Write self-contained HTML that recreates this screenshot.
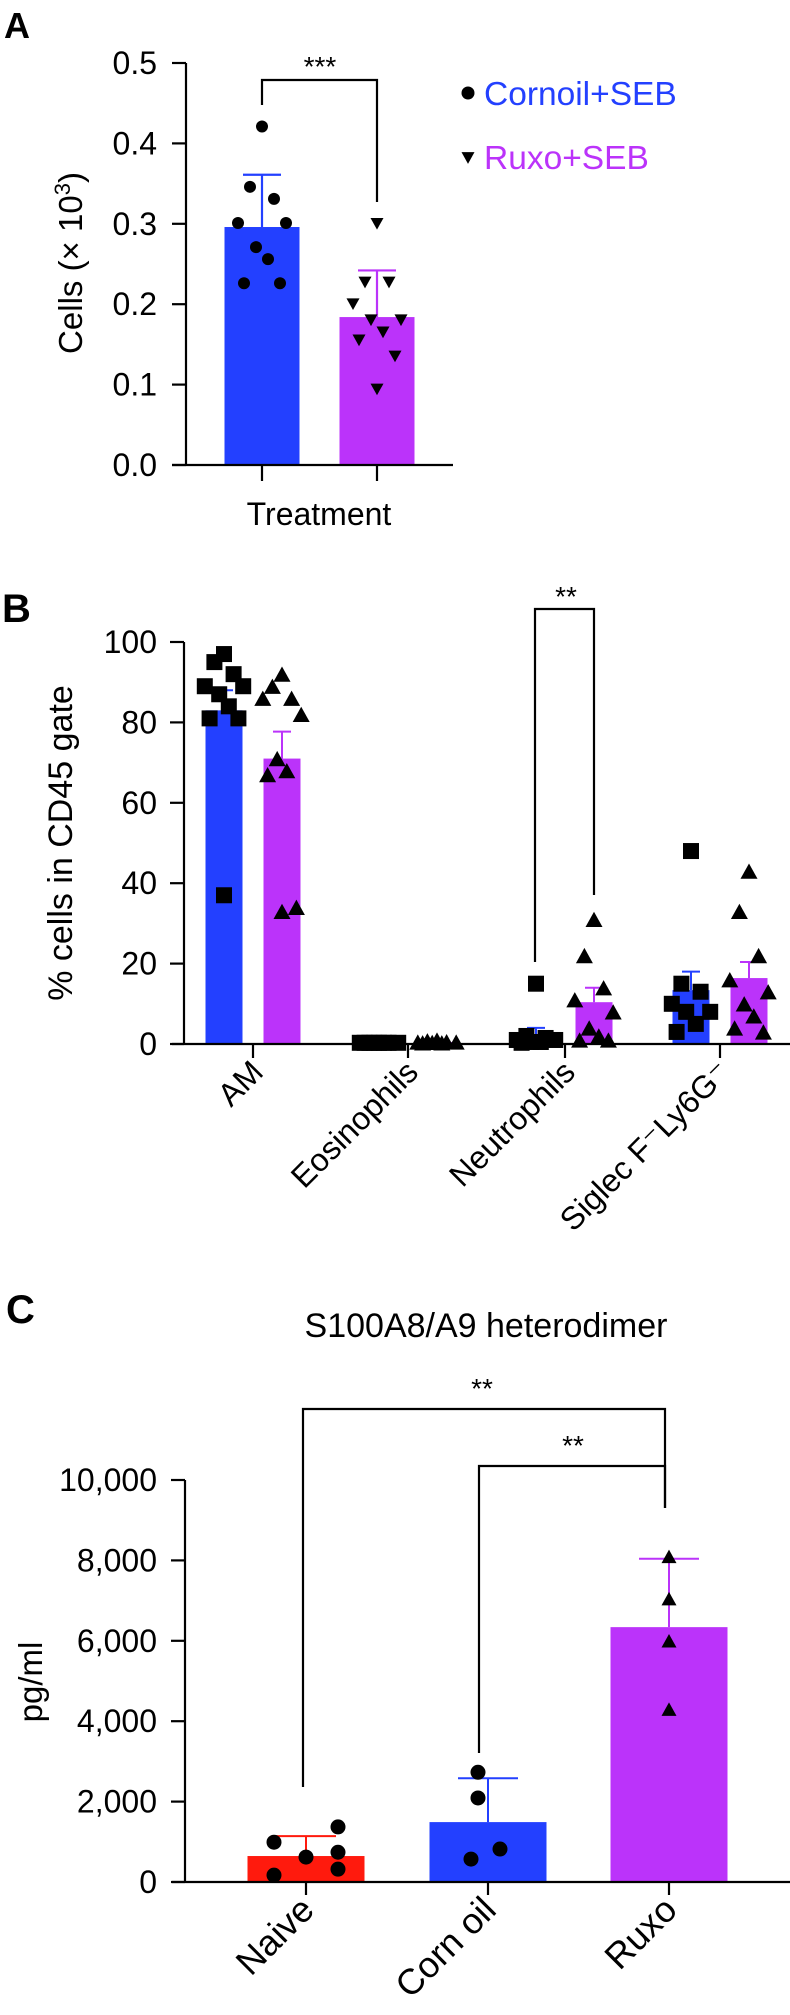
<!DOCTYPE html>
<html><head><meta charset="utf-8"><style>
html,body{margin:0;padding:0;background:#fff;}
svg{display:block;font-family:"Liberation Sans",Arial,sans-serif;}
</style></head><body>
<svg id="fig" width="790" height="2015" viewBox="0 0 790 2015" xmlns="http://www.w3.org/2000/svg">
<text x="4" y="38" font-size="36" font-weight="bold">A</text>
<text x="2" y="622" font-size="40" font-weight="bold">B</text>
<text x="6" y="1323" font-size="40" font-weight="bold">C</text>
<g id="pa"></g>
<g id="pb"></g>
<g id="pc"></g>
</svg>
<script>
// ---------- Panel A data ----------
const aGroups = ["Cornoil+SEB", "Ruxo+SEB"];
const aMeans = [0.296, 0.184];
const aErr = [0.361, 0.242];
const aPtsBlue = [0.421, 0.346, 0.331, 0.301, 0.301, 0.271, 0.256, 0.226, 0.226];
const aPtsPurple = [0.300, 0.227, 0.227, 0.200, 0.180, 0.180, 0.165, 0.155, 0.135, 0.094];
const aTicks = ["0.0", "0.1", "0.2", "0.3", "0.4", "0.5"];
const aTickVals = [0, 0.1, 0.2, 0.3, 0.4, 0.5];
// ---------- Panel B data ----------
const bCats = ["AM", "Eosinophils", "Neutrophils", "Siglec F\u207BLy6G\u207B"];
const bMeansBlue = [83, 0.3, 1.5, 13.4];
const bMeansPurple = [71, 0.5, 10.4, 16.4];
const bErrBlue = [88, 0.6, 4, 18];
const bErrPurple = [77.7, 0.9, 14, 20.4];
const bPtsBlue = [
  [97, 95, 92, 89, 89, 87, 84, 81, 81, 37],
  [0.3, 0.3, 0.3, 0.3, 0.3, 0.3, 0.3, 0.3],
  [15, 2, 1.5, 1, 1, 0.5, 0.5, 0.3],
  [48, 15, 13, 10, 8, 8, 5, 3]
];
const bPtsPurple = [
  [92, 89, 86, 86, 82, 71, 68, 67, 34, 33],
  [1, 0.8, 0.6, 0.5, 0.5, 0.4, 0.3, 0.3],
  [31, 22, 14, 11, 8, 4, 2, 1, 1],
  [43, 33, 22, 16, 13, 10, 7, 4, 3]
];
const bTickVals = [0, 20, 40, 60, 80, 100];
// ---------- Panel C data ----------
const cCats = ["Naive", "Corn oil", "Ruxo"];
const cMeans = [646, 1490, 6340];
const cErr = [1140, 2580, 8040];
const cPts = [
  [990, 170, 620, 1370, 740, 320],
  [2730, 2090, 570, 820],
  [8100, 7050, 6000, 4300]
];
const cTickVals = [0, 2000, 4000, 6000, 8000, 10000];
const cTickLabels = ["0", "2,000", "4,000", "6,000", "8,000", "10,000"];

const NS = "http://www.w3.org/2000/svg";
function mk(parent, tag, attrs, txt) {
  const e = document.createElementNS(NS, tag);
  for (const k in attrs) e.setAttribute(k, attrs[k]);
  if (txt !== undefined) e.textContent = txt;
  parent.appendChild(e);
  return e;
}
const BLUE = "#2340ff", PURPLE = "#bb33fa", RED = "#ff1a0d";
function circle(g, x, y, r) {
  const c = mk(g, "circle", {cx: x, cy: y, r: r, fill: "#000"});
  
  
}
function tri(g, x, y, s, down) {
  const h = s * 0.9;
  const pts = down ? `${x-s/2},${y-h/2} ${x+s/2},${y-h/2} ${x},${y+h/2}` : `${x-s/2},${y+h/2} ${x+s/2},${y+h/2} ${x},${y-h/2}`;
  const p = mk(g, "polygon", {points: pts, fill: "#000"});
  
  
}
function square(g, x, y, s) {
  const r = mk(g, "rect", {x: x - s/2, y: y - s/2, width: s, height: s, fill: "#000"});
  
  
}
const jit = [0, -12, 12, -24, 24, -6, 6, -18, 18, 0];

// ---------- Panel A ----------
(function(){
  const g = document.getElementById("pa");
  const ax = 186, y0 = 465, yTop = 63;
  const yA = v => y0 - (v / 0.5) * (y0 - yTop);
  const cx = [262, 377], bw = 75;
  const cols = [BLUE, PURPLE];
  aMeans.forEach((m, i) => {
    const r = mk(g, "rect", {x: cx[i] - bw/2, y: yA(m), width: bw, height: y0 - yA(m), fill: cols[i]});
    
    
    const e = mk(g, "path", {d: `M${cx[i]},${yA(m)}V${yA(aErr[i])}M${cx[i]-19},${yA(aErr[i])}H${cx[i]+19}`, stroke: cols[i], "stroke-width": 2.2, fill: "none"});
    
    
  });
  aPtsBlue.forEach((v, i) => circle(g, cx[0] + jit[i], yA(v), 6));
  aPtsPurple.forEach((v, i) => tri(g, cx[1] + jit[i], yA(v), 13, true));
  const axl = mk(g, "path", {d: `M${ax},${yTop}V${y0}M172,${y0}H453M${cx[0]},${y0}V${y0+16}M${cx[1]},${y0}V${y0+16}`, stroke: "#000", "stroke-width": 2.2, fill: "none"});
  
  
  aTickVals.forEach((v, i) => {
    mk(g, "path", {d: `M${ax-14},${yA(v)}H${ax}`, stroke: "#000", "stroke-width": 2.2});
    const t = mk(g, "text", {x: 157, y: yA(v) + 11, "font-size": 32, "text-anchor": "end"}, aTicks[i]);
    
    
  });
  const yl = mk(g, "text", {x: 0, y: 0, "font-size": 33, "text-anchor": "middle", transform: `translate(82,263) rotate(-90)`});
  
  
  yl.innerHTML = 'Cells (× 10<tspan dy="-12" font-size="22">3</tspan><tspan dy="12">)</tspan>';
  const xl = mk(g, "text", {x: 319, y: 525, "font-size": 32, "text-anchor": "middle"}, "Treatment");
  
  
  const br = mk(g, "path", {d: `M${cx[0]},105V80H${cx[1]}V202`, stroke: "#000", "stroke-width": 2.2, fill: "none"});
  
  
  const st = mk(g, "text", {x: 320, y: 76, "font-size": 28, "text-anchor": "middle"}, "***");
  
  
  const l1 = mk(g, "g", {});
  
  
  mk(l1, "circle", {cx: 468, cy: 93, r: 6.5, fill: "#000"});
  mk(l1, "text", {x: 484, y: 105, "font-size": 33.5, fill: BLUE}, aGroups[0]);
  const l2 = mk(g, "g", {});
  
  
  tri(l2, 468, 158, 13, true);
  mk(l2, "text", {x: 484, y: 169, "font-size": 33.5, fill: PURPLE}, aGroups[1]);
})();

// ---------- Panel B ----------
(function(){
  const g = document.getElementById("pb");
  const ax = 184, y0 = 1044, yTop = 642;
  const yB = v => y0 - (v / 100) * (y0 - yTop);
  const centers = [253, 408, 565, 720], bw = 37, off = 29;
  bCats.forEach((c, i) => {
    [[bMeansBlue, bErrBlue, BLUE, -off, bPtsBlue, 'blue'], [bMeansPurple, bErrPurple, PURPLE, off, bPtsPurple, 'purple']].forEach(s => {
      const x = centers[i] + s[3];
      const m = s[0][i];
      const r = mk(g, "rect", {x: x - bw/2, y: yB(m), width: bw, height: y0 - yB(m), fill: s[2]});
      
      
      const e = mk(g, "path", {d: `M${x},${yB(m)}V${yB(s[1][i])}M${x-9},${yB(s[1][i])}H${x+9}`, stroke: s[2], "stroke-width": 2, fill: "none"});
      
      
    });
    bPtsBlue[i].forEach((v, k) => square(g, centers[i] - off + jit[k] * 0.8, yB(v), 16));
    bPtsPurple[i].forEach((v, k) => tri(g, centers[i] + off + jit[k] * 0.8, yB(v), 17, false));
  });
  const axl = mk(g, "path", {d: `M${ax},${yTop}V${y0}M172,${y0}H790`, stroke: "#000", "stroke-width": 2.2, fill: "none"});
  
  
  bTickVals.forEach(v => {
    mk(g, "path", {d: `M${ax-14},${yB(v)}H${ax}`, stroke: "#000", "stroke-width": 2.2});
    const t = mk(g, "text", {x: 157, y: yB(v) + 11, "font-size": 32, "text-anchor": "end"}, String(v));
    
    
  });
  centers.forEach((c, i) => {
    mk(g, "path", {d: `M${c},${y0}V${y0+14}`, stroke: "#000", "stroke-width": 2.2});
    const t = mk(g, "text", {x: 0, y: 0, "font-size": 32, "text-anchor": "end", transform: `translate(${c+12},${y0+30}) rotate(-45)`}, bCats[i]);
    
    
  });
  const yl = mk(g, "text", {x: 0, y: 0, "font-size": 34, "text-anchor": "middle", transform: `translate(72,843) rotate(-90)`}, "% cells in CD45 gate");
  
  
  const br = mk(g, "path", {d: `M535,962V609H594V895`, stroke: "#000", "stroke-width": 2.2, fill: "none"});
  
  
  const st = mk(g, "text", {x: 566, y: 606, "font-size": 28, "text-anchor": "middle"}, "**");
  
  
})();

// ---------- Panel C ----------
(function(){
  const g = document.getElementById("pc");
  const ax = 185, y0 = 1882, yTop = 1480;
  const yC = v => y0 - (v / 10000) * (y0 - yTop);
  const centers = [306, 488, 669], bw = 117;
  const cols = [RED, BLUE, PURPLE];
  const cjit = [[-32, -32, 0, 32, 32, 32], [-10, -10, -17, 12], [0, 0, 0, 0]];
  cCats.forEach((c, i) => {
    const x = centers[i], m = cMeans[i];
    const r = mk(g, "rect", {x: x - bw/2, y: yC(m), width: bw, height: y0 - yC(m), fill: cols[i]});
    
    
    const e = mk(g, "path", {d: `M${x},${yC(m)}V${yC(cErr[i])}M${x-30},${yC(cErr[i])}H${x+30}`, stroke: cols[i], "stroke-width": 2, fill: "none"});
    
    
    cPts[i].forEach((v, k) => {
      if (i < 2) circle(g, x + cjit[i][k], yC(v), 7.5);
      else tri(g, x, yC(v), 15, false);
    });
  });
  const axl = mk(g, "path", {d: `M${ax},${yTop}V${y0}M172,${y0}H790`, stroke: "#000", "stroke-width": 2.2, fill: "none"});
  
  
  cTickVals.forEach((v, i) => {
    mk(g, "path", {d: `M${ax-14},${yC(v)}H${ax}`, stroke: "#000", "stroke-width": 2.2});
    const t = mk(g, "text", {x: 157, y: yC(v) + 11, "font-size": 32, "text-anchor": "end"}, cTickLabels[i]);
    
    
  });
  centers.forEach((c, i) => {
    mk(g, "path", {d: `M${c},${y0}V${y0+13}`, stroke: "#000", "stroke-width": 2.2});
    const t = mk(g, "text", {x: 0, y: 0, "font-size": 36, "text-anchor": "end", transform: `translate(${c+10},${y0+30}) rotate(-45)`}, cCats[i]);
    
    
  });
  const yl = mk(g, "text", {x: 0, y: 0, "font-size": 33, "text-anchor": "middle", transform: `translate(42,1682) rotate(-90)`}, "pg/ml");
  
  
  const tt = mk(g, "text", {x: 486, y: 1337, "font-size": 34, "text-anchor": "middle"}, "S100A8/A9 heterodimer");
  
  
  const b1 = mk(g, "path", {d: `M303,1787V1409H665V1508`, stroke: "#000", "stroke-width": 2.2, fill: "none"});
  
  
  const b2 = mk(g, "path", {d: `M479,1753V1466H665V1508`, stroke: "#000", "stroke-width": 2.2, fill: "none"});
  
  
  const s1 = mk(g, "text", {x: 482, y: 1398, "font-size": 28, "text-anchor": "middle"}, "**");
  
  
  const s2 = mk(g, "text", {x: 573, y: 1455, "font-size": 28, "text-anchor": "middle"}, "**");
  
  
})();
</script>
</body></html>
